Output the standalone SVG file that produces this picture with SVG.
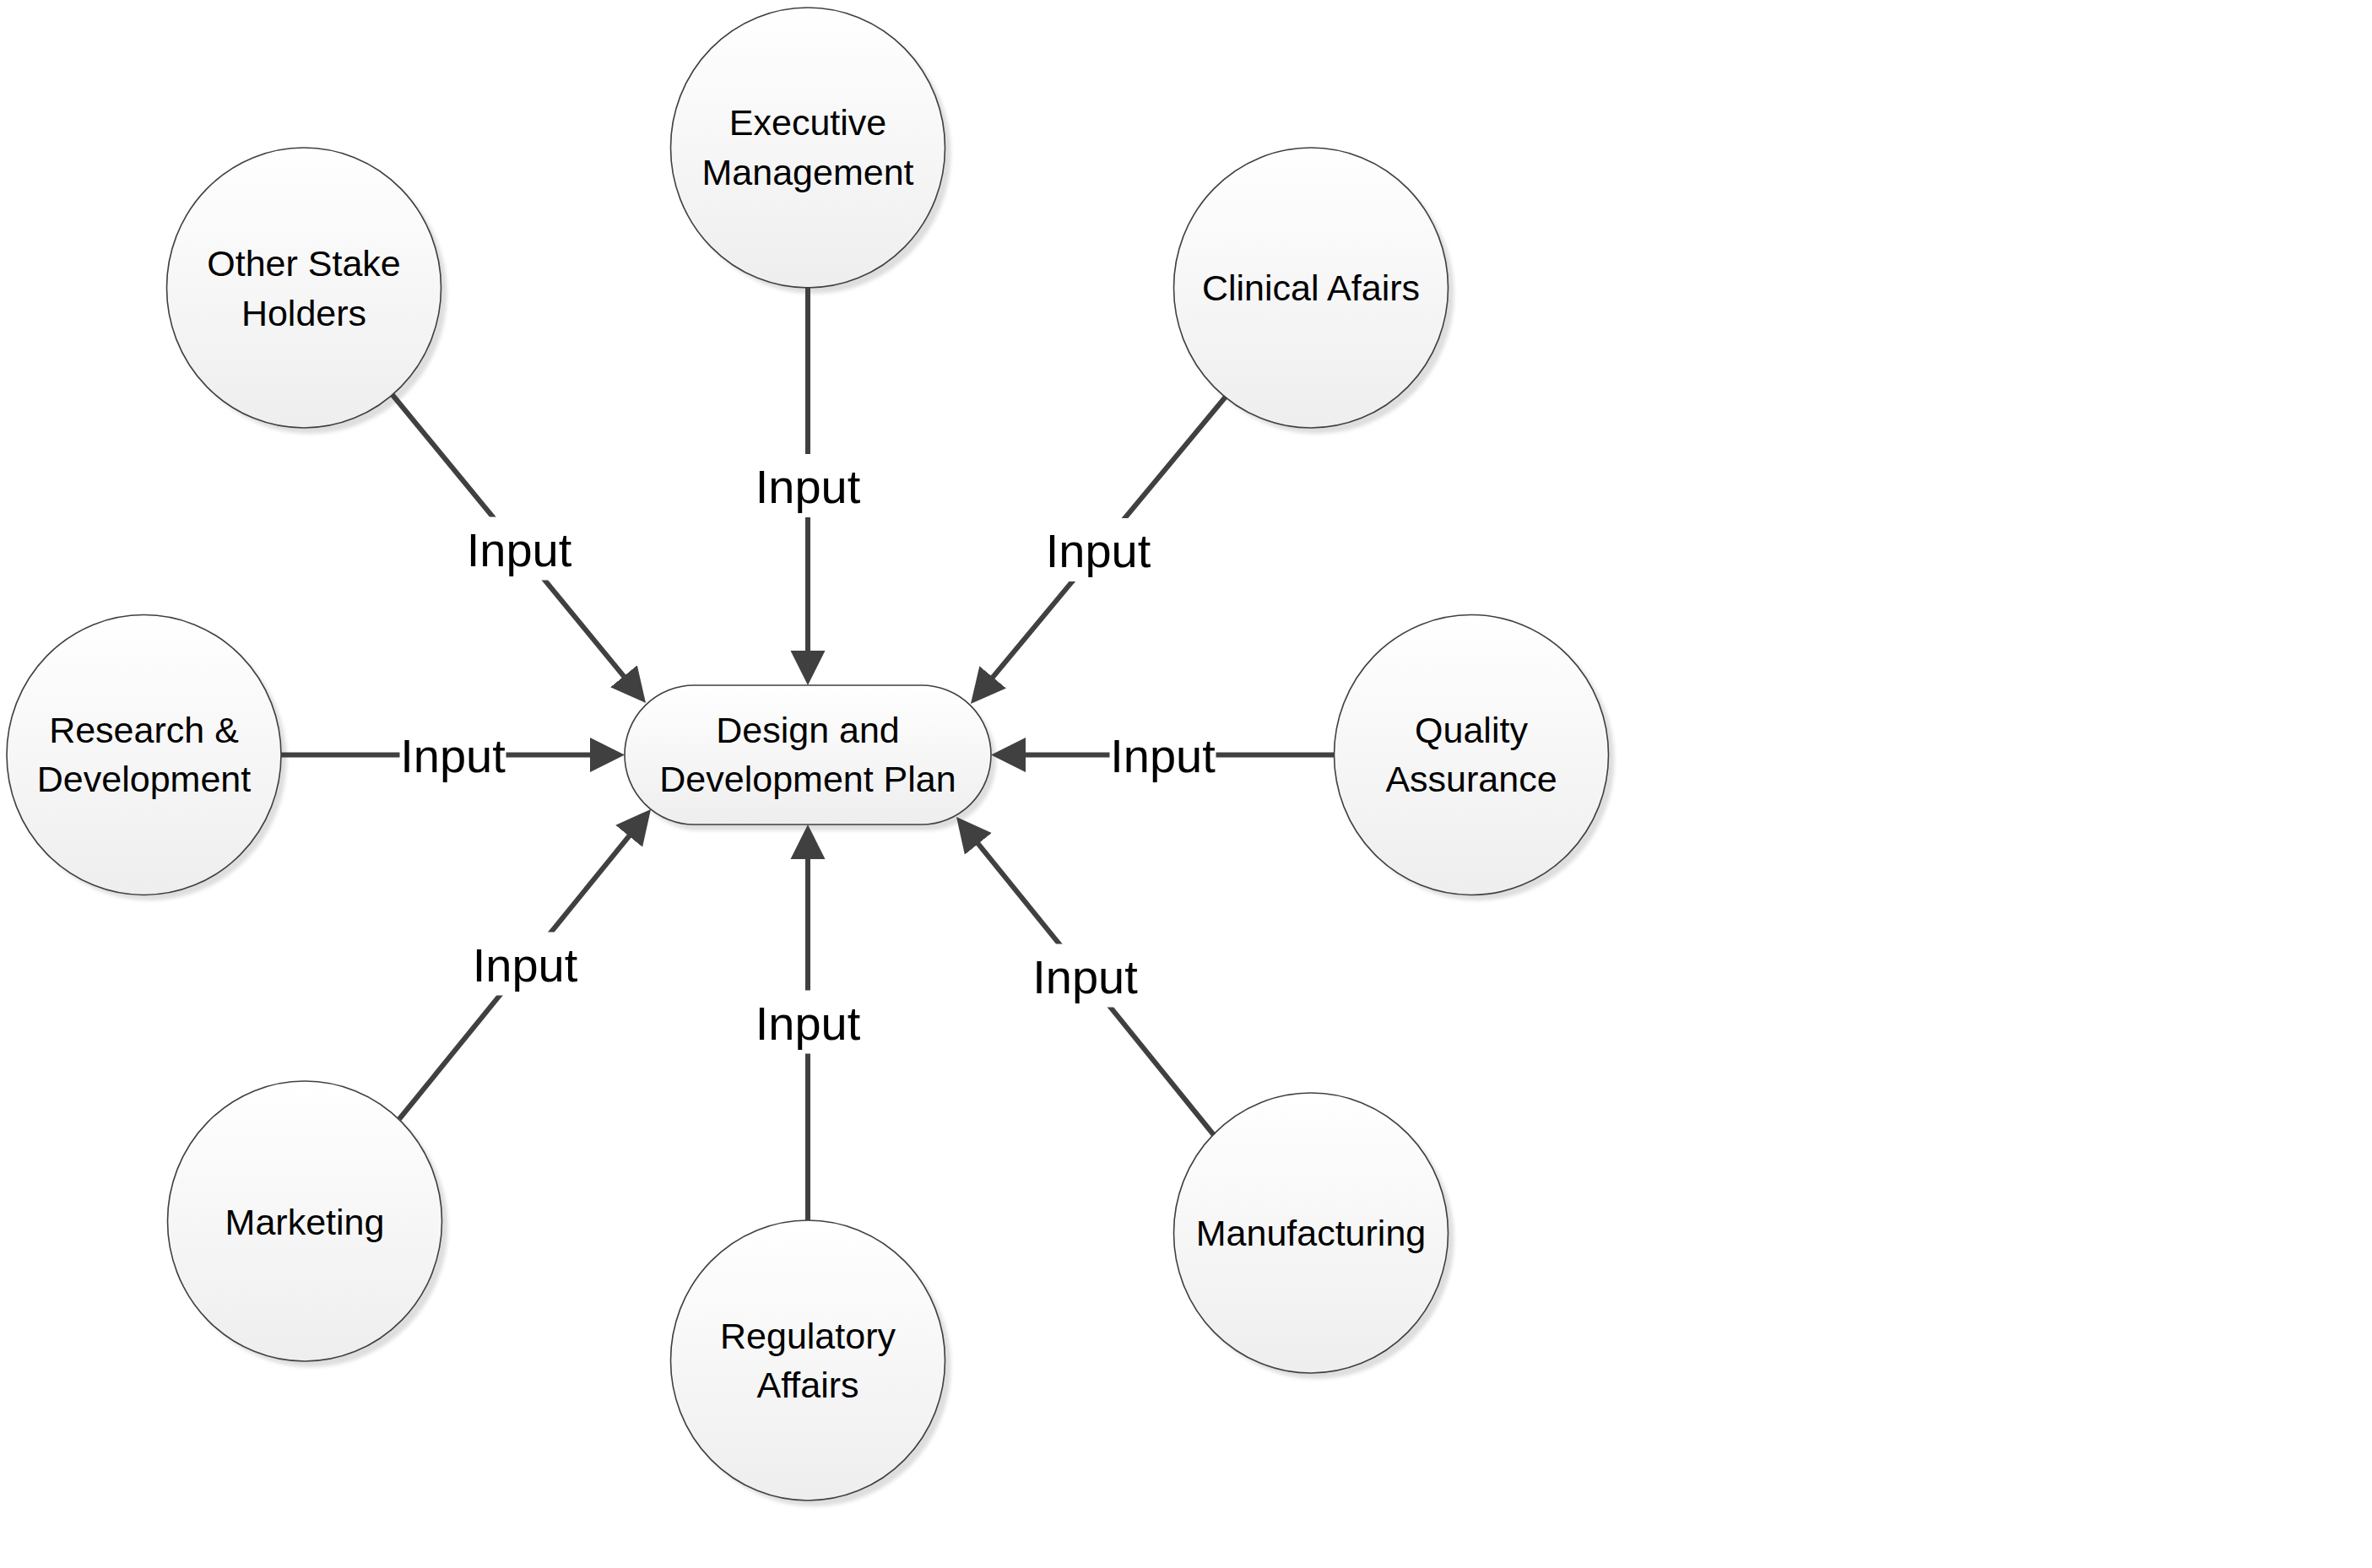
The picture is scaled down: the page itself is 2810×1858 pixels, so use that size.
<svg xmlns="http://www.w3.org/2000/svg" width="2810" height="1858" viewBox="0 0 2810 1858">
<style>
.shape{fill:url(#g);stroke:#404040;stroke-width:1.6}
.shadow{fill:#dedede;filter:url(#blur)}
.nt{font-family:"Liberation Sans",Arial,sans-serif;font-size:43px;fill:#000;text-anchor:middle}
.conn{stroke:#404040;stroke-width:6;fill:none;marker-end:url(#arr)}
.lbg{fill:#fff}
.lt{font-family:"Liberation Sans",Arial,sans-serif;font-size:56px;fill:#000;text-anchor:middle}
</style>
<defs>
<linearGradient id="g" x1="0" y1="0" x2="0" y2="1">
<stop offset="0" stop-color="#ffffff"/>
<stop offset="1" stop-color="#eeeeee"/>
</linearGradient>
<filter id="blur" x="-10%" y="-10%" width="120%" height="120%"><feGaussianBlur stdDeviation="2"/></filter>
<marker id="arr" markerUnits="userSpaceOnUse" viewBox="0 -21 42 42" refX="1" refY="0" markerWidth="42" markerHeight="42" orient="auto">
<path d="M0,-20.5 L41,0 L0,20.5 Z" fill="#404040"/>
</marker>
</defs>
<rect width="2810" height="1858" fill="#fff"/>

<g id="node-center">
<rect class="shadow" x="746" y="819" width="434" height="165" rx="82.5"/>
<rect class="shape" x="740" y="812" width="434" height="165" rx="82.5"/>
<text class="nt" x="957" y="880">Design and</text>
<text class="nt" x="957" y="938">Development Plan</text>
</g>

<g id="node-exec">
<ellipse class="shadow" cx="964" cy="182" rx="162.5" ry="166"/>
<ellipse class="shape" cx="957" cy="175" rx="162.5" ry="166"/>
<text class="nt" x="957" y="160">Executive</text>
<text class="nt" x="957" y="219">Management</text>
</g>

<g id="node-other">
<ellipse class="shadow" cx="367" cy="348" rx="162.5" ry="166"/>
<ellipse class="shape" cx="360" cy="341" rx="162.5" ry="166"/>
<text class="nt" x="360" y="327">Other Stake</text>
<text class="nt" x="360" y="386">Holders</text>
</g>

<g id="node-clinical">
<ellipse class="shadow" cx="1560" cy="348" rx="162.5" ry="166"/>
<ellipse class="shape" cx="1553" cy="341" rx="162.5" ry="166"/>
<text class="nt" x="1553" y="356">Clinical Afairs</text>
</g>

<g id="node-rd">
<ellipse class="shadow" cx="177" cy="901" rx="162.5" ry="166"/>
<ellipse class="shape" cx="170.5" cy="894.5" rx="162.5" ry="166"/>
<text class="nt" x="170.5" y="880">Research &amp;</text>
<text class="nt" x="170.5" y="938">Development</text>
</g>

<g id="node-qa">
<ellipse class="shadow" cx="1750" cy="901" rx="162.5" ry="166"/>
<ellipse class="shape" cx="1743" cy="894.5" rx="162.5" ry="166"/>
<text class="nt" x="1743" y="880">Quality</text>
<text class="nt" x="1743" y="938">Assurance</text>
</g>

<g id="node-marketing">
<ellipse class="shadow" cx="368" cy="1454" rx="162.5" ry="166"/>
<ellipse class="shape" cx="361" cy="1447" rx="162.5" ry="166"/>
<text class="nt" x="361" y="1463">Marketing</text>
</g>

<g id="node-regulatory">
<ellipse class="shadow" cx="964" cy="1619" rx="162.5" ry="166"/>
<ellipse class="shape" cx="957" cy="1612" rx="162.5" ry="166"/>
<text class="nt" x="957" y="1598">Regulatory</text>
<text class="nt" x="957" y="1656">Affairs</text>
</g>

<g id="node-manufacturing">
<ellipse class="shadow" cx="1560" cy="1468" rx="162.5" ry="166"/>
<ellipse class="shape" cx="1553" cy="1461" rx="162.5" ry="166"/>
<text class="nt" x="1553" y="1476">Manufacturing</text>
</g>

<g id="connectors">
<g id="c-exec">
<path class="conn" d="M957,340 L957,772"/>
<rect class="lbg" x="894" y="538" width="126" height="75"/>
<text class="lt" x="957" y="596">Input</text>
</g>
<g id="c-regulatory">
<path class="conn" d="M957,1446 L957,1017"/>
<rect class="lbg" x="894" y="1173.5" width="126" height="75"/>
<text class="lt" x="957" y="1231.5">Input</text>
</g>
<g id="c-rd">
<path class="conn" d="M333,894.5 L700,894.5"/>
<rect class="lbg" x="473.5" y="856.5" width="126" height="75"/>
<text class="lt" x="536.5" y="914.5">Input</text>
</g>
<g id="c-qa">
<path class="conn" d="M1581,894.5 L1214,894.5"/>
<rect class="lbg" x="1314.5" y="856.5" width="126" height="75"/>
<text class="lt" x="1377.5" y="914.5">Input</text>
</g>
<g id="c-other">
<path class="conn" d="M465,468 L739.6,802.1"/>
<rect class="lbg" x="552" y="612.5" width="126" height="75"/>
<text class="lt" x="615" y="670.5">Input</text>
</g>
<g id="c-clinical">
<path class="conn" d="M1452,470 L1175.5,803.2"/>
<rect class="lbg" x="1238" y="614" width="126" height="75"/>
<text class="lt" x="1301" y="672">Input</text>
</g>
<g id="c-marketing">
<path class="conn" d="M473,1326 L745.8,990"/>
<rect class="lbg" x="559" y="1104.5" width="126" height="75"/>
<text class="lt" x="622" y="1162.5">Input</text>
</g>
<g id="c-manufacturing">
<path class="conn" d="M1438,1345 L1158.2,999.1"/>
<rect class="lbg" x="1222.5" y="1118.5" width="126" height="75"/>
<text class="lt" x="1285.5" y="1176.5">Input</text>
</g>
</g>
</svg>
